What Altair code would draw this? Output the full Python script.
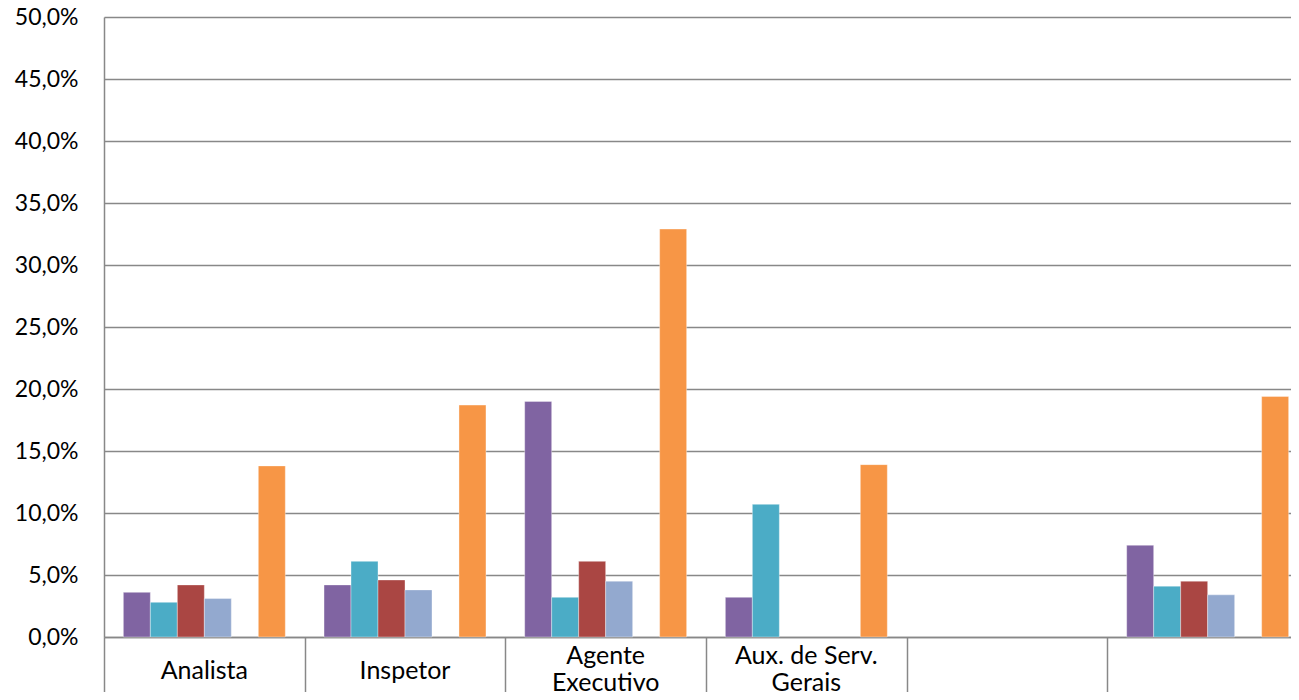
import altair as alt
import pandas as pd

categories = ["Analista", "Inspetor", "Agente Executivo", "Aux. de Serv. Gerais", "cat5", "cat6"]
cat_labels = ["Analista", "Inspetor", "Agente|Executivo", "Aux. de Serv.|Gerais", "", ""]
series = ["Série 1", "Série 2", "Série 3", "Série 4", "Série 5", "Série 6"]
colors = ["#8064A2", "#4BACC6", "#AA4643", "#93A9CF", "#9BBB59", "#F79646"]

s1 = [3.6, 4.2, 19.0, 3.2, None, 7.4]
s2 = [2.8, 6.1, 3.2, 10.7, None, 4.1]
s3 = [4.2, 4.6, 6.1, None, None, 4.5]
s4 = [3.1, 3.8, 4.5, None, None, 3.4]
s5 = [None, None, None, None, None, None]
s6 = [13.8, 18.7, 32.9, 13.9, None, 19.4]

rows = []
for sname, vals in zip(series, [s1, s2, s3, s4, s5, s6]):
    for c, v in zip(categories, vals):
        if v is not None:
            rows.append({"cat": c, "serie": sname, "valor": v})
df = pd.DataFrame(rows)

lab_df = pd.DataFrame({"cat": categories, "label": cat_labels,
                       "lines": [len(l.split("|")) for l in cat_labels]})

grey = "#888888"
font = "Lato"

xscale = alt.Scale(domain=categories, paddingInner=0, paddingOuter=0)

bars = alt.Chart(df).mark_bar(stroke="white", strokeWidth=0.6, strokeOpacity=0.6).encode(
    x=alt.X("cat:N", sort=categories, scale=xscale,
            axis=alt.Axis(title=None, tickBand="extent", tickSize=70, tickColor=grey, tickWidth=1.5,
                          domainColor=grey, domainWidth=1.5, labels=False)),
    xOffset=alt.XOffset("serie:N", scale=alt.Scale(domain=series, paddingInner=0, paddingOuter=0.717)),
    y=alt.Y("valor:Q", scale=alt.Scale(domain=[0, 50]),
            axis=alt.Axis(title=None, values=[0, 5, 10, 15, 20, 25, 30, 35, 40, 45, 50],
                          labelExpr="replace(format(datum.value, '.1f'), '.', ',') + '%'",
                          ticks=False, labelPadding=26, grid=True, gridColor=grey, gridWidth=1.4,
                          domainColor=grey, domainWidth=1.5, labelFontSize=23, labelFont=font,
                          labelColor="black")),
    color=alt.Color("serie:N", scale=alt.Scale(domain=series, range=colors), legend=None),
)

single = alt.Chart(lab_df).transform_filter("datum.lines == 1").mark_text(
    font=font, fontSize=25, color="black", baseline="middle", align="center"
).encode(x=alt.X("cat:N", sort=categories, scale=xscale), y=alt.value(654), text="label:N")

double = alt.Chart(lab_df).transform_filter("datum.lines == 2").mark_text(
    font=font, fontSize=25, color="black", baseline="middle", align="center",
    lineBreak="|", lineHeight=27
).encode(x=alt.X("cat:N", sort=categories, scale=xscale), y=alt.value(639), text="label:N")

chart = alt.layer(bars, single, double).properties(
    width=1204, height=620,
    autosize=alt.AutoSizeParams(type="none"),
    padding={"left": 96, "top": 9, "right": -17, "bottom": 55},
).configure_view(stroke=None)

chart.save("out.html", embed_options={"renderer": "svg", "actions": False})
